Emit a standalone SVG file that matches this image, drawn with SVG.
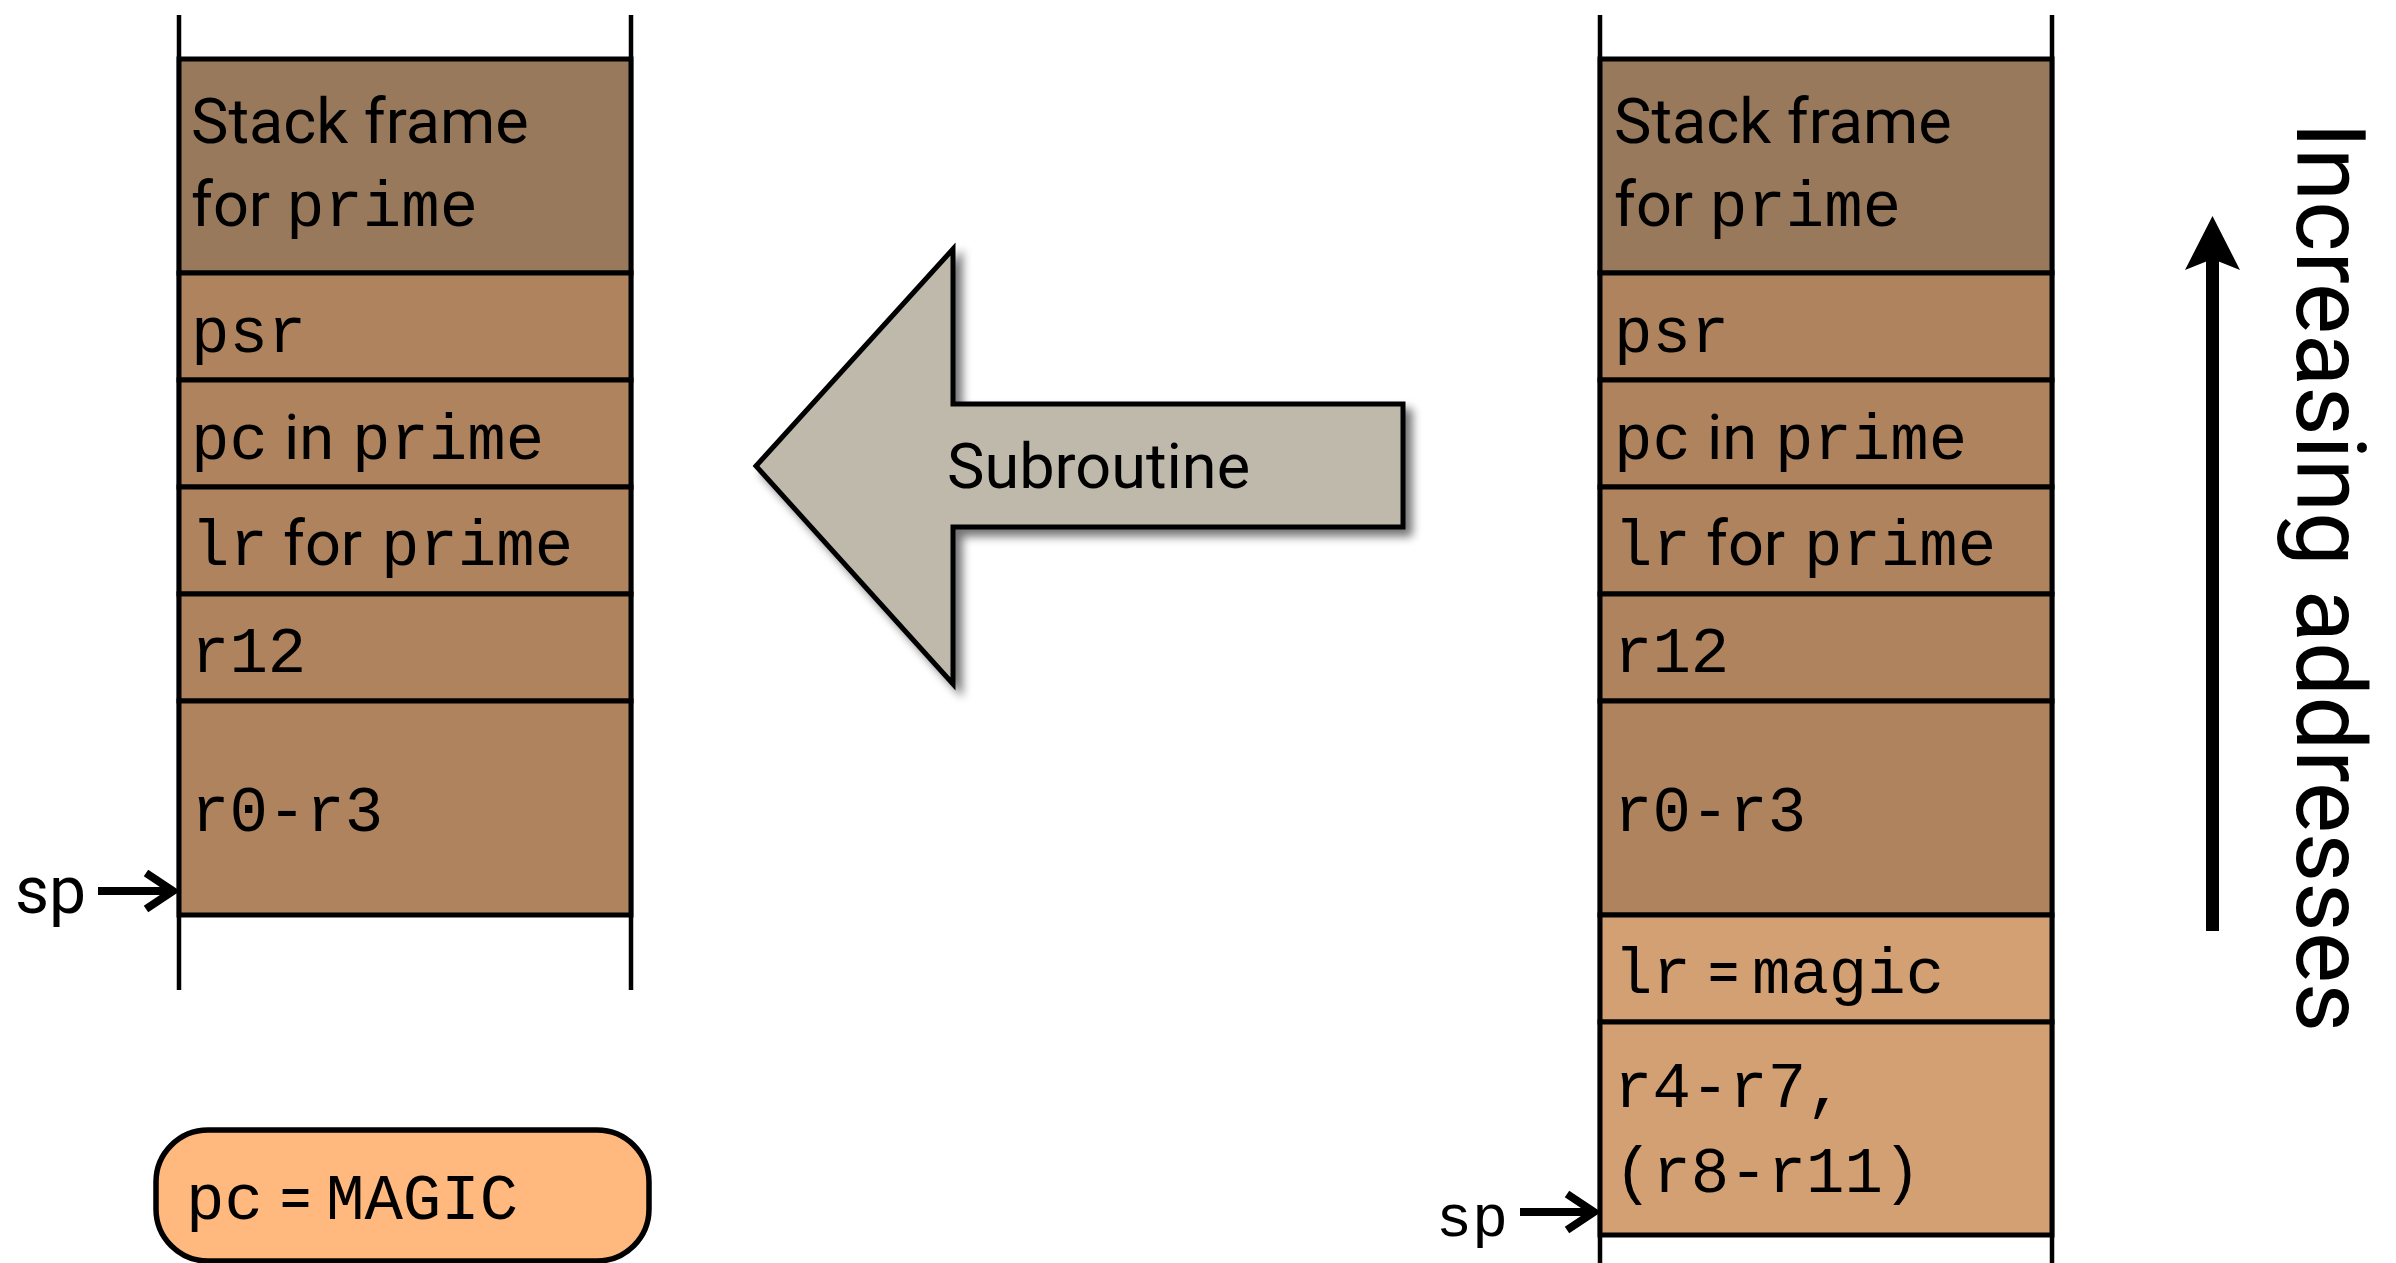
<svg xmlns="http://www.w3.org/2000/svg" width="2396" height="1263" viewBox="0 0 2396 1263">
<style>
.sans{font-family:Roboto,"Liberation Sans",sans-serif;font-size:63px;fill:#000}
.mono{font-family:"Liberation Mono","DejaVu Sans Mono",monospace;font-size:64px;fill:#000}
.cell{stroke:#000;stroke-width:5}
.dark{fill:#98795B}
.mid{fill:#AE835E}
.light{fill:#D3A074}
.wall{stroke:#000;stroke-width:4.5;fill:none}
.ptr{stroke:#000;stroke-width:8;fill:none}
</style>
<defs>
<filter id="shadow" x="-10%" y="-10%" width="130%" height="130%">
<feGaussianBlur in="SourceAlpha" stdDeviation="5"/>
<feOffset dx="7" dy="7" result="b"/>
<feComponentTransfer><feFuncA type="linear" slope="0.55"/></feComponentTransfer>
<feMerge><feMergeNode/><feMergeNode in="SourceGraphic"/></feMerge>
</filter>
</defs>
<rect width="2396" height="1263" fill="#fff"/>

<g id="left-stack">
<line class="wall" x1="179" y1="15" x2="179" y2="990"/>
<line class="wall" x1="631" y1="15" x2="631" y2="990"/>
<rect class="cell dark" x="179" y="59" width="452" height="214"/>
<rect class="cell mid" x="179" y="273" width="452" height="107"/>
<rect class="cell mid" x="179" y="380" width="452" height="107"/>
<rect class="cell mid" x="179" y="487" width="452" height="107"/>
<rect class="cell mid" x="179" y="594" width="452" height="107"/>
<rect class="cell mid" x="179" y="701" width="452" height="214"/>
<text class="sans" x="191" y="143">Stack frame</text>
<text y="226"><tspan class="sans" x="191">for</tspan><tspan class="mono" x="286">prime</tspan></text>
<text class="mono" x="191" y="352">psr</text>
<text y="459"><tspan class="mono" x="191">pc</tspan><tspan class="sans" x="284">in</tspan><tspan class="mono" x="352">prime</tspan></text>
<text y="565"><tspan class="mono" x="191">lr</tspan><tspan class="sans" x="283">for</tspan><tspan class="mono" x="381">prime</tspan></text>
<text class="mono" x="191" y="672">r12</text>
<text class="mono" x="191" y="831">r0-r3</text>
</g>

<g id="left-sp">
<text class="sans" x="15" y="913" style="font-size:66px">sp</text>
</g>

<g id="right-stack">
<line class="wall" x1="1600" y1="15" x2="1600" y2="1263"/>
<line class="wall" x1="2052" y1="15" x2="2052" y2="1263"/>
<rect class="cell dark" x="1600" y="59" width="452" height="214"/>
<rect class="cell mid" x="1600" y="273" width="452" height="107"/>
<rect class="cell mid" x="1600" y="380" width="452" height="107"/>
<rect class="cell mid" x="1600" y="487" width="452" height="107"/>
<rect class="cell mid" x="1600" y="594" width="452" height="107"/>
<rect class="cell mid" x="1600" y="701" width="452" height="214"/>
<rect class="cell light" x="1600" y="915" width="452" height="107"/>
<rect class="cell light" x="1600" y="1022" width="452" height="213"/>
<text class="sans" x="1614" y="143">Stack frame</text>
<text y="226"><tspan class="sans" x="1614">for</tspan><tspan class="mono" x="1709">prime</tspan></text>
<text class="mono" x="1614" y="352">psr</text>
<text y="459"><tspan class="mono" x="1614">pc</tspan><tspan class="sans" x="1707">in</tspan><tspan class="mono" x="1775">prime</tspan></text>
<text y="565"><tspan class="mono" x="1614">lr</tspan><tspan class="sans" x="1706">for</tspan><tspan class="mono" x="1804">prime</tspan></text>
<text class="mono" x="1614" y="672">r12</text>
<text class="mono" x="1614" y="831">r0-r3</text>
<text y="993"><tspan class="mono" x="1614">lr</tspan><tspan class="sans" x="1706">=</tspan><tspan class="mono" x="1752">magic</tspan></text>
<text class="mono" x="1614" y="1107">r4-r7,</text>
<text class="mono" x="1614" y="1192">(r8-r11)</text>
</g>

<g id="right-sp">
<text class="mono" x="1436" y="1236" style="font-size:60px">sp</text>
</g>

<g id="subroutine">
<polygon points="756,466 953,249 953,404 1403,404 1403,527 953,527 953,684" fill="#BFB9AB" stroke="#000" stroke-width="5" stroke-linejoin="miter" filter="url(#shadow)"/>
<text class="sans" x="947" y="488">Subroutine</text>
</g>

<g id="pc-magic">
<rect x="156" y="1130" width="493" height="131" rx="52" ry="52" fill="#FFB97F" stroke="#000" stroke-width="5.5"/>
<text y="1219"><tspan class="mono" x="186">pc</tspan><tspan class="sans" x="278">=</tspan><tspan class="mono" x="326">MAGIC</tspan></text>
</g>

<g id="increasing">
<text class="sans" transform="translate(2297,122) rotate(90)" style="font-size:96px">Increasing addresses</text>
</g>

<g id="connectors">
<line class="ptr" x1="98" y1="891" x2="172" y2="891"/>
<polyline class="ptr" points="146,873 173,891 146,909" stroke-linejoin="miter"/>
<line class="ptr" x1="1520" y1="1212" x2="1594" y2="1212"/>
<polyline class="ptr" points="1567,1194 1594,1212 1567,1230" stroke-linejoin="miter"/>
<rect x="2206" y="256" width="13" height="675" fill="#000"/>
<polygon points="2212.5,216 2240,270 2212.5,259 2185,270" fill="#000"/>
</g>
</svg>
